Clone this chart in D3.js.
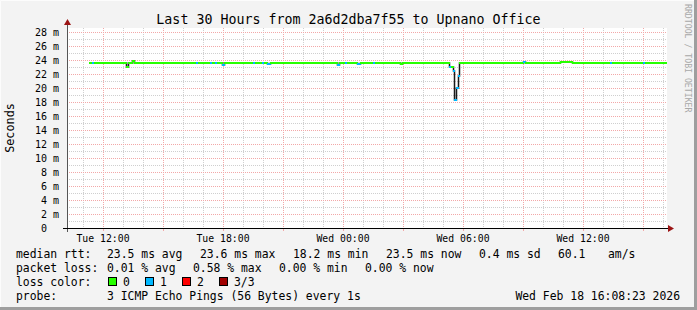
<!DOCTYPE html>
<html>
<head>
<meta charset="utf-8">
<script src="https://cdn.jsdelivr.net/npm/d3@7"></script>
<style>
  html, body { margin: 0; padding: 0; background: #f3f3f3; }
  svg text { font-family: "DejaVu Sans Mono", monospace; }
</style>
</head>
<body>
<div id="wrapper"></div>
<script>
// median rtt samples (change points), each holds until the next one
const sampleTimes = [
  '2026-02-17 11:18', '2026-02-17 11:27', '2026-02-17 11:33', '2026-02-17 13:09',
  '2026-02-17 13:15', '2026-02-17 13:27', '2026-02-17 13:33', '2026-02-17 16:39',
  '2026-02-17 16:45', '2026-02-17 17:21', '2026-02-17 17:27', '2026-02-17 17:36',
  '2026-02-17 17:42', '2026-02-17 17:57', '2026-02-17 18:03', '2026-02-17 19:30',
  '2026-02-17 19:36', '2026-02-17 19:57', '2026-02-17 20:03', '2026-02-17 20:12',
  '2026-02-17 20:21', '2026-02-17 23:42', '2026-02-17 23:48', '2026-02-18 00:06',
  '2026-02-18 00:12', '2026-02-18 00:42', '2026-02-18 00:51', '2026-02-18 01:30',
  '2026-02-18 01:36', '2026-02-18 02:51', '2026-02-18 02:57', '2026-02-18 05:18',
  '2026-02-18 05:24', '2026-02-18 05:30', '2026-02-18 05:33', '2026-02-18 05:39',
  '2026-02-18 05:45', '2026-02-18 05:48', '2026-02-18 09:00', '2026-02-18 09:06',
  '2026-02-18 10:51', '2026-02-18 11:27', '2026-02-18 13:21', '2026-02-18 13:27',
  '2026-02-18 15:00', '2026-02-18 15:06', '2026-02-18 16:09'
];
const medianMs = [
  23.5, 23.5, 23.5, 22.9,
  23.5, 23.8, 23.5, 23.5,
  23.5, 23.5, 23.5, 23.5,
  23.5, 23.2, 23.5, 23.5,
  23.5, 23.5, 23.5, 23.3,
  23.5, 23.2, 23.5, 23.5,
  23.5, 23.3, 23.5, 23.5,
  23.5, 23.3, 23.5, 23.0,
  23.0, 22.3, 18.2, 20.0,
  21.7, 23.5, 23.7, 23.5,
  23.7, 23.5, 23.5, 23.5,
  23.5, 23.5, 23.5
];
const lostPings = [
  0, 1, 0, 0,
  0, 0, 0, 1,
  0, 1, 0, 1,
  0, 1, 0, 1,
  0, 1, 0, 1,
  0, 1, 0, 1,
  0, 1, 0, 1,
  0, 0, 0, 1,
  0, 1, 1, 1,
  1, 0, 1, 0,
  0, 0, 1, 0,
  1, 0, 0
];

const lossLabels = ['0', '1', '2', '3/3'];
const lossColors = ['#26ff00', '#00b8ff', '#ff0000', '#a00000'];

const rttStats = [23.5, 23.6, 18.2, 23.5, 0.4];
const rttStatNames = ['avg', 'max', 'min', 'now', 'sd'];
const rttAmps = 60.1;
const lossStats = [0.01, 0.58, 0.00, 0.00];
const lossStatNames = ['avg', 'max', 'min', 'now'];

const yTicks = [0, 2, 4, 6, 8, 10, 12, 14, 16, 18, 20, 22, 24, 26, 28];
const title = 'Last 30 Hours from 2a6d2dba7f55 to Upnano Office';
const probeText = '3 ICMP Echo Pings (56 Bytes) every 1s';
const stampText = 'Wed Feb 18 16:08:23 2026';

const width = 697;
const height = 310;
const plot = { left: 67, right: 667, top: 28, bottom: 228 };

const parse = d3.timeParse('%Y-%m-%d %H:%M');
const samples = sampleTimes.map((t, i) => ({ t: parse(t), v: medianMs[i], loss: lostPings[i] }));

const x = d3.scaleTime()
  .domain([parse('2026-02-17 10:12'), parse('2026-02-18 16:12')])
  .range([plot.left, plot.right]);
// 2 ms per 14 px
const y = d3.scaleLinear()
  .domain([0, 200 / 7])
  .range([plot.bottom, plot.top]);

const svg = d3.select('#wrapper')
  .append('svg')
  .attr('width', width)
  .attr('height', height)
  .style('display', 'block');

// canvas + bevel border
svg.append('rect').attr('width', width).attr('height', height).attr('fill', '#f3f3f3');
svg.append('path').attr('d', `M0.5,${height} V0.5 H${width}`).attr('stroke', '#fcfcfc').attr('fill', 'none');
svg.append('path').attr('d', `M0,${height - 1.5} H${width - 1.5} V0`).attr('stroke', '#9e9e9e').attr('stroke-width', 3).attr('fill', 'none');

svg.append('rect')
  .attr('x', plot.left).attr('y', plot.top)
  .attr('width', plot.right - plot.left).attr('height', plot.bottom - plot.top)
  .attr('fill', '#ffffff');

// grid
const grid = svg.append('g').attr('stroke-dasharray', '1,1').attr('stroke-width', 1);
const minorY = d3.range(1, 29);
grid.selectAll('.hminor')
  .data(minorY.filter(d => d % 2 === 1))
  .enter().append('line')
  .attr('x1', plot.left).attr('x2', plot.right)
  .attr('y1', d => Math.round(y(d)) + 0.5).attr('y2', d => Math.round(y(d)) + 0.5)
  .attr('stroke', '#cfcfcf');
grid.selectAll('.vminor')
  .data(x.ticks(d3.timeHour.every(1)).filter(d => d.getHours() % 3 !== 0))
  .enter().append('line')
  .attr('x1', d => Math.round(x(d)) + 0.5).attr('x2', d => Math.round(x(d)) + 0.5)
  .attr('y1', plot.top).attr('y2', plot.bottom)
  .attr('stroke', '#cfcfcf');
grid.selectAll('.hmajor')
  .data(yTicks.filter(d => d > 0))
  .enter().append('line')
  .attr('x1', plot.left).attr('x2', plot.right)
  .attr('y1', d => Math.round(y(d)) + 0.5).attr('y2', d => Math.round(y(d)) + 0.5)
  .attr('stroke', '#f2a8a8');
grid.selectAll('.vmajor')
  .data(x.ticks(d3.timeHour.every(3)))
  .enter().append('line')
  .attr('x1', d => Math.round(x(d)) + 0.5).attr('x2', d => Math.round(x(d)) + 0.5)
  .attr('y1', plot.top).attr('y2', plot.bottom)
  .attr('stroke', '#f2a8a8');

// median: dark step line for the jumps, coloured runs by loss on top
const step = d3.line()
  .x(d => Math.round(x(d.t)) + 0.5)
  .y(d => Math.floor(y(d.v)))
  .curve(d3.curveStepAfter);
svg.append('path')
  .datum(samples)
  .attr('d', step)
  .attr('fill', 'none')
  .attr('stroke', '#1a1a1a')
  .attr('stroke-width', 1.5);

svg.append('g')
  .selectAll('line')
  .data(samples.slice(0, -1))
  .enter().append('line')
  .attr('x1', d => Math.round(x(d.t)))
  .attr('x2', (d, i) => Math.round(x(samples[i + 1].t)) + 1)
  .attr('y1', d => Math.floor(y(d.v)))
  .attr('y2', d => Math.floor(y(d.v)))
  .attr('stroke', d => lossColors[d.loss])
  .attr('stroke-width', 2);

// axes
svg.append('line')
  .attr('x1', plot.left + 0.5).attr('x2', plot.left + 0.5)
  .attr('y1', plot.bottom + 4).attr('y2', plot.top - 4)
  .attr('stroke', '#555');
svg.append('line')
  .attr('x1', plot.left - 4).attr('x2', plot.right + 1)
  .attr('y1', plot.bottom + 0.5).attr('y2', plot.bottom + 0.5)
  .attr('stroke', '#000');
svg.append('path')
  .attr('d', `M${plot.left - 3},${plot.top - 3} L${plot.left + 4},${plot.top - 3} L${plot.left + 0.5},${plot.top - 9} Z`)
  .attr('fill', '#9b1414');
svg.append('path')
  .attr('d', `M${plot.right + 1},${plot.bottom - 3} L${plot.right + 1},${plot.bottom + 4} L${plot.right + 7},${plot.bottom + 0.5} Z`)
  .attr('fill', '#9b1414');

svg.append('g')
  .selectAll('line')
  .data(x.ticks(d3.timeHour.every(3)))
  .enter().append('line')
  .attr('x1', d => Math.round(x(d)) + 0.5).attr('x2', d => Math.round(x(d)) + 0.5)
  .attr('y1', plot.bottom + 1).attr('y2', plot.bottom + 3)
  .attr('stroke', '#f2a8a8');

// tick labels
const fmt = d3.timeFormat('%a %H:%M');
svg.append('g')
  .selectAll('text')
  .data(x.ticks(d3.timeHour.every(6)))
  .enter().append('text')
  .attr('x', d => x(d))
  .attr('y', 242)
  .attr('text-anchor', 'middle')
  .attr('font-size', '9.8px')
  .attr('fill', '#000')
  .text(fmt);

svg.append('g')
  .selectAll('text')
  .data(yTicks)
  .enter().append('text')
  .attr('x', d => d === 0 ? 47 : 59)
  .attr('y', d => y(d) + 3.5)
  .attr('text-anchor', 'end')
  .attr('font-size', '10px')
  .attr('fill', '#000')
  .text(d => d === 0 ? '0' : d + ' m');

// titles
svg.append('text')
  .attr('x', width / 2).attr('y', 24)
  .attr('text-anchor', 'middle')
  .attr('font-size', '13.3px')
  .text(title);

svg.append('text')
  .attr('transform', 'translate(14,128) rotate(-90)')
  .attr('text-anchor', 'middle')
  .attr('font-size', '11.8px')
  .text('Seconds');

svg.append('text')
  .attr('transform', 'translate(685,4) rotate(90)')
  .attr('font-size', '8.2px')
  .attr('fill', '#a8a8a8')
  .text('RRDTOOL / TOBI OETIKER');

// legend
const legend = svg.append('g').attr('font-size', '11.4px').attr('fill', '#000');
const rowY = [258, 272, 286, 300];

legend.append('text').attr('x', 16).attr('y', rowY[0]).text('median rtt:');
legend.selectAll('.rtt')
  .data(rttStats)
  .enter().append('text')
  .attr('x', (d, i) => 107 + i * 93)
  .attr('y', rowY[0])
  .text((d, i) => d.toFixed(1) + ' ms ' + rttStatNames[i]);
legend.append('text').attr('x', 558).attr('y', rowY[0]).text(rttAmps.toFixed(1));
legend.append('text').attr('x', 608).attr('y', rowY[0]).text('am/s');

legend.append('text').attr('x', 16).attr('y', rowY[1]).text('packet loss:');
legend.selectAll('.loss')
  .data(lossStats)
  .enter().append('text')
  .attr('x', (d, i) => 107 + i * 86)
  .attr('y', rowY[1])
  .text((d, i) => d.toFixed(2) + ' % ' + lossStatNames[i]);

legend.append('text').attr('x', 16).attr('y', rowY[2]).text('loss color:');
const boxX = [108, 145, 182, 219];
legend.selectAll('.box')
  .data(lossColors)
  .enter().append('rect')
  .attr('x', (d, i) => boxX[i] + 0.5)
  .attr('y', rowY[2] - 8.5)
  .attr('width', 8).attr('height', 8)
  .attr('fill', d => d)
  .attr('stroke', '#000');
legend.selectAll('.boxlabel')
  .data(lossLabels)
  .enter().append('text')
  .attr('x', (d, i) => boxX[i] + 15)
  .attr('y', rowY[2])
  .text(d => d);

legend.append('text').attr('x', 16).attr('y', rowY[3]).text('probe:');
legend.append('text').attr('x', 107).attr('y', rowY[3]).text(probeText);
legend.append('text').attr('x', 680).attr('y', rowY[3]).attr('text-anchor', 'end').text(stampText);
</script>
</body>
</html>
